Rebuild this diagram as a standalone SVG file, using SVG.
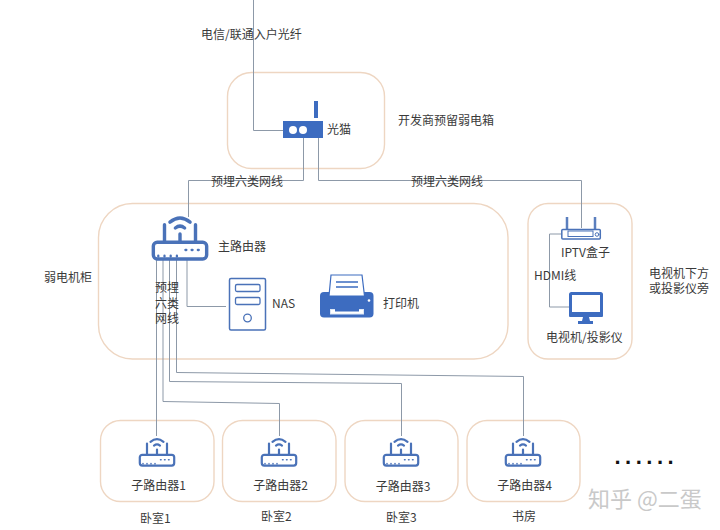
<svg xmlns="http://www.w3.org/2000/svg" xmlns:xlink="http://www.w3.org/1999/xlink" width="720" height="530" viewBox="0 0 720 530">
<style>
text{font-family:"Noto Sans CJK SC","Liberation Sans",sans-serif;font-size:12px;fill:#3a3a3a}
.box{fill:#fff;stroke:#eed6c2;stroke-width:1.4}
.wire{fill:none;stroke:#8d99a8;stroke-width:1}
.ln{fill:none;stroke:#4a72b8;stroke-linecap:round}
.solid{fill:#3d6cc0}
.m{text-anchor:middle}
</style>
<defs>
<g id="router">
<rect class="ln" x="-17.2" y="0.8" width="34.4" height="10.8" rx="2.5" stroke-width="2.2"/>
<path class="ln" stroke-width="2.2" d="M-10 -10.5V0M10 -10.5V0M0 -4.5V0M-6.5 -12.2Q0 -17.6 6.500 -12.2M-3 -8.400Q0 -10.800 3 -8.400"/>
<path class="ln" stroke-width="1.500" d="M3.500 5.800h.6M7.500 5.800h.6M11.500 5.800h.6M-14 10V9.500M-10 10V9.500M-6 10V9.500M-2 10V9.500"/>
</g>
</defs>
<rect width="720" height="530" fill="#fff"/>
<g id="box-top"><rect class="box" x="227.500" y="72.500" width="157" height="96" rx="24"/></g>
<g id="box-main"><rect class="box" x="98.500" y="203.500" width="409.500" height="155.500" rx="34"/></g>
<g id="box-tv"><rect class="box" x="528" y="203.500" width="104" height="155.500" rx="20"/></g>
<g id="box-sub1"><rect class="box" x="100.500" y="420.500" width="113.500" height="81" rx="20"/></g>
<g id="box-sub2"><rect class="box" x="222.500" y="420.500" width="113.500" height="81" rx="20"/></g>
<g id="box-sub3"><rect class="box" x="345" y="420.500" width="113" height="81" rx="20"/></g>
<g id="box-sub4"><rect class="box" x="467" y="420.500" width="113" height="81" rx="20"/></g>
<g id="connectors">
<path class="wire" d="M253.500 0V130.500H283"/>
<path class="wire" d="M303.500 138V180.500H188.500V217"/>
<path class="wire" d="M318.500 138V180.500H581.500V228"/>
<path class="wire" d="M187 259V306.500H226"/>
<path class="wire" d="M156.500 259V436" stroke="#a5afbd"/>
<path class="wire" d="M163 259V401.500L279.500 403.500V436"/>
<path class="wire" d="M169.500 259V381.500L401.500 383.500V436"/>
<path class="wire" d="M176.500 259V372.500L523.500 376.500V436"/>
<path class="wire" d="M561 234H549.500V307H569"/>
</g>
<g id="modem">
<rect class="solid" x="314" y="101" width="4" height="17"/>
<rect class="solid" x="283" y="121" width="40" height="17"/>
<circle cx="293" cy="130" r="4" fill="#fff"/><circle cx="303" cy="130" r="4" fill="#fff"/>
<text x="327" y="134">光猫</text>
</g>
<g id="main-router">
<use xlink:href="#router" href="#router" transform="translate(180 241) scale(1.55)"/>
<text x="218" y="251">主路由器</text>
</g>
<g id="nas">
<rect class="ln" x="229.500" y="278.500" width="36" height="51.500" rx="1.500" stroke-width="1.500" fill="#fff"/>
<rect class="ln" x="235.500" y="284.500" width="24.500" height="7" rx="1.500" stroke-width="1.300"/>
<rect class="ln" x="235.500" y="297.500" width="24.500" height="7" rx="1.500" stroke-width="1.300"/>
<circle class="ln" cx="247.500" cy="318" r="3.800" stroke-width="1.300"/>
<text x="272" y="308">NAS</text>
</g>
<g id="printer">
<rect class="solid" x="320" y="292" width="53.500" height="25.500" rx="4"/>
<path d="M331 275H362L364.500 296H329Z" fill="#fff" stroke="#3d6cc0" stroke-width="1.200"/>
<path d="M336 282H358M336 287H358" stroke="#3d6cc0" stroke-width="1.500"/>
<rect x="330.500" y="309.500" width="33" height="4.500" fill="#fff" stroke="#dce6f5"/>
<rect x="335" y="309" width="24" height="2.500" fill="#3d6cc0"/>
<circle cx="369" cy="300.500" r="1.300" fill="#fff"/>
<text x="383" y="308">打印机</text>
</g>
<g id="iptv">
<path d="M567 217V229M595 217V229" stroke="#5b7fbe" stroke-width="2.500"/>
<rect class="ln" x="561.800" y="229.500" width="38.500" height="9.500" rx="1" stroke-width="1.500" fill="#fff"/>
<rect class="ln" x="568" y="231" width="25" height="5.500" stroke-width="1"/>
<circle class="ln" cx="597" cy="234.500" r="1.800" stroke-width="1"/>
<text x="561" y="257">IPTV盒子</text>
</g>
<g id="monitor">
<rect x="570.500" y="293.500" width="31" height="20" rx="1" fill="#fff" stroke="#3d6cc0" stroke-width="3"/>
<path class="solid" d="M569 312H603V316Q603 317 602 317H570Q569 317 569 316ZM583 317H589L590 321H593V324H578V321H582Z"/>
<text x="546" y="341.500">电视机/投影仪</text>
</g>
<g id="sub1"><use xlink:href="#router" href="#router" transform="translate(157 454)"/><text class="m" x="158.500" y="490">子路由器1</text></g>
<g id="sub2"><use xlink:href="#router" href="#router" transform="translate(279 454)"/><text class="m" x="280.500" y="490">子路由器2</text></g>
<g id="sub3"><use xlink:href="#router" href="#router" transform="translate(401 454)"/><text class="m" x="403" y="490.500">子路由器3</text></g>
<g id="sub4"><use xlink:href="#router" href="#router" transform="translate(523 454)"/><text class="m" x="524.500" y="490">子路由器4</text></g>
<g id="labels">
<text x="201" y="39">电信/联通入户光纤</text>
<text x="398" y="125">开发商预留弱电箱</text>
<text x="211" y="186">预埋六类网线</text>
<text x="411" y="186">预埋六类网线</text>
<text x="44" y="282">弱电机柜</text>
<text x="155" y="292">预埋</text>
<text x="155" y="308">六类</text>
<text x="155" y="323">网线</text>
<text x="534" y="280">HDMI线</text>
<text x="649" y="278">电视机下方</text>
<text x="649" y="293">或投影仪旁</text>
<text x="140" y="523">卧室1</text>
<text x="261" y="521">卧室2</text>
<text x="386" y="522">卧室3</text>
<text x="512" y="521">书房</text>
<text x="614.500" y="464" style="font-family:'Liberation Sans',sans-serif;font-size:22px;font-weight:bold;letter-spacing:4.500px;fill:#111">......</text>
<text x="588" y="507" style="font-size:22px;fill:#c9c9c9">知乎 @二蛋</text>
</g>
</svg>
